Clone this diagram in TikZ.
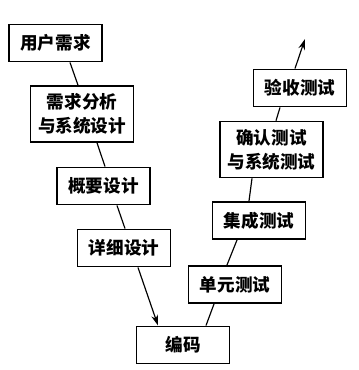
\documentclass[tikz,border=0pt]{standalone}
\usepackage{fontspec}
\newfontfamily\cjk{Noto Sans CJK SC}
\usetikzlibrary{arrows.meta,calc}
\tikzset{
  stage/.style={draw,line width=1.4pt,align=center,inner sep=2pt,
    minimum width=2.8cm,minimum height=1.12cm,
    font=\cjk\bfseries\fontsize{15}{20.5}\selectfont},
  twoline/.style={stage,minimum width=3.08cm,minimum height=1.68cm},
  link/.style={line width=1pt},
  arrow/.style={link,-{Stealth[length=3.2mm,width=2mm]}}
}
\begin{document}
\begin{tikzpicture}[x=0.03cm,y=-0.03cm]
  \useasboundingbox (0,0) rectangle (358,370);
  % left branch
  \node[stage]   (user)    at (55.5,43)   {用户需求};
  \node[twoline] (req)     at (82,114)    {需求分析\\与系统设计};
  \node[stage]   (outline) at (103.5,186) {概要设计};
  \node[stage]   (detail)  at (124,248)   {详细设计};
  \node[stage]   (code)    at (183,345)   {编码};
  % right branch
  \node[stage]   (unit)    at (235,284.5) {单元测试};
  \node[stage]   (integ)   at (259,220.5) {集成测试};
  \node[twoline] (confirm) at (271.5,149.5) {确认测试\\与系统测试};
  \node[stage]   (accept)  at (300,88)    {验收测试};
  \coordinate (top) at (305,39);
  \draw[link] ($(user.south)+(14.5,0)$) -- ($(req.north)+(-4,0)$);
  \draw[link] ($(req.south)+(15,0)$) -- ($(outline.north)+(1.5,0)$);
  \draw[link] ($(outline.south)+(13.5,0)$) -- ($(detail.north)+(1,0)$);
  \draw[arrow] ($(detail.south)+(14,0)$) -- ($(code.north)+(-25,0)$);
  \draw[link] ($(code.north)+(23,0)$) -- ($(unit.south)+(-21,0)$);
  \draw[link] ($(unit.north)+(-8,0)$) -- ($(integ.south)+(-22,0)$);
  \draw[link] ($(integ.north)+(-10,0)$) -- ($(confirm.south)+(-19.5,0)$);
  \draw[link] ($(confirm.north)+(4.5,0)$) -- ($(accept.south)+(-20,0)$);
  \draw[arrow] ($(accept.north)+(-5,0)$) -- (top);
\end{tikzpicture}
\end{document}
